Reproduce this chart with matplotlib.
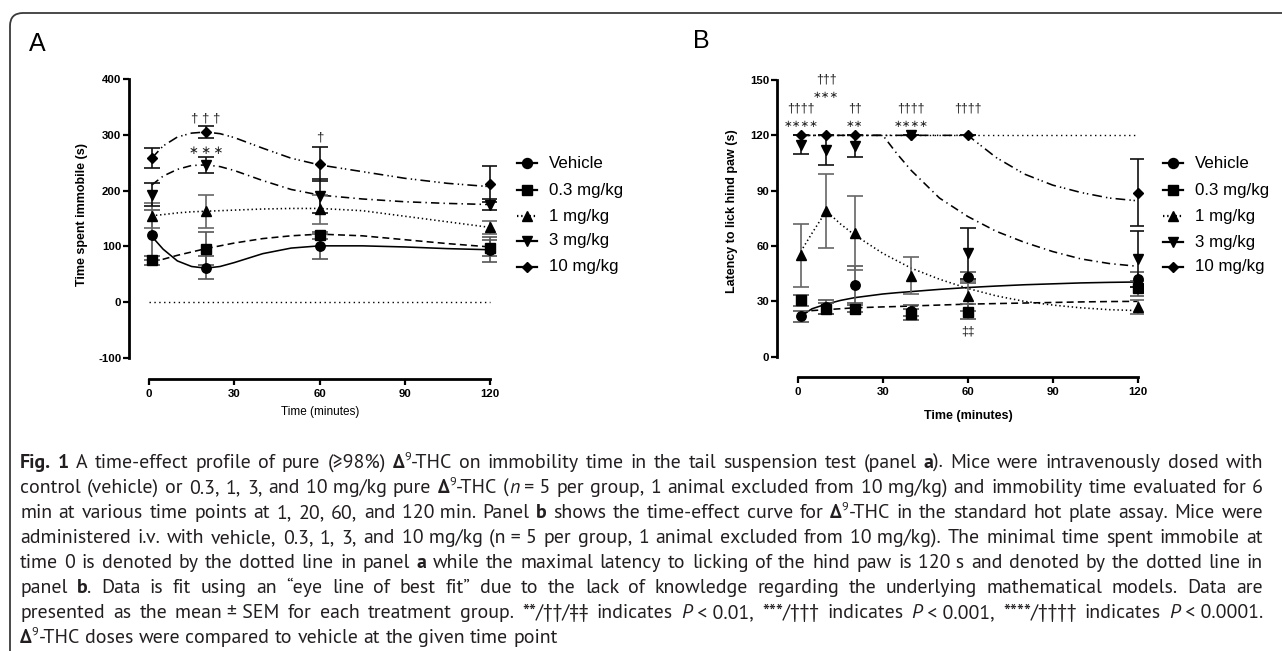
import matplotlib
matplotlib.use("Agg")
import matplotlib.pyplot as plt
from matplotlib.lines import Line2D
from matplotlib.patches import FancyBboxPatch
from matplotlib.transforms import IdentityTransform
from matplotlib import font_manager

plt.rcParams['font.family'] = ['Liberation Sans', 'DejaVu Sans']
plt.rcParams['lines.scale_dashes'] = False
plt.rcParams['axes.unicode_minus'] = False

W, H = 1282, 651

# ---------------- Panel A data (tail suspension) ----------------
A_time = [1, 20, 60, 120]
A_vehicle = [120, 62, 100, 94]
A_vehicle_sem = [45, 21, 22, 22]
A_d03 = [75, 96, 120, 97]
A_d03_sem = [8, 30, 6, 15]
A_d1 = [155, 163, 167, 134]
A_d1_sem = [22, 30, 26, 12]
A_d3 = [193, 246, 190, 175]
A_d3_sem = [20, 15, 30, 10]
A_d10 = [258, 305, 248, 212]
A_d10_sem = [18, 10, 30, 32]

A_fit_t = [1, 5, 10, 15, 20, 25, 30, 40, 50, 60, 75, 90, 105, 120]
A_fit_vehicle = [118, 95, 74, 64, 61, 64, 71, 87, 97, 101, 101, 99, 96, 94]
A_fit_d03 = [73, 77, 84, 90, 96, 101, 106, 114, 119, 122, 119, 112, 105, 99]
A_fit_d1 = [155, 157, 160, 162, 163, 164, 165, 167, 168, 168, 164, 154, 144, 134]
A_fit_d3 = [210, 226, 238, 245, 246, 243, 236, 218, 202, 192, 185, 180, 177, 175]
A_fit_d10 = [258, 280, 296, 303, 305, 302, 295, 276, 258, 246, 234, 222, 213, 207]

A_yticks = [-100, 0, 100, 200, 300, 400]
A_xticks = [0, 30, 60, 90, 120]
A_notes = [(20, 330, "\u2020 \u2020 \u2020"), (20, 271, "\u2217\u2009\u2217\u2009\u2217"), (60, 296, "\u2020")]

# ---------------- Panel B data (hot plate) ----------------
B_time = [1, 10, 20, 40, 60, 120]
B_vehicle = [22, 27, 39, 25, 43, 42]
B_vehicle_sem = [3, 4, 10, 3, 3, 4]
B_d03 = [30.5, 26, 26, 23, 24.5, 37]
B_d03_sem = [3, 3, 2, 3, 4, 4]
B_d1 = [55, 79, 67, 44, 33, 27]
B_d1_sem = [17, 20, 20, 10, 8, 4]
B_d3 = [115, 112, 114, 120, 56, 53]
B_d3_sem = [5, 8, 6, 0, 14, 15]
B_d10 = [120, 120, 120, 120, 120, 89]
B_d10_sem = [0, 0, 0, 0, 0, 18]

B_fit_t = [1, 5, 10, 15, 20, 30, 35, 40, 50, 60, 70, 80, 90, 100, 110, 120]
B_fit_vehicle = [22, 26, 28.5, 30.5, 32, 34, 34.7, 35.3, 36.5, 37.5, 38.3, 39, 39.5, 40, 40.3, 40.5]
B_fit_d03 = [23, 25, 25.5, 26, 26.5, 27, 27.2, 27.5, 28, 28.5, 28.8, 29.1, 29.4, 29.7, 29.9, 30]
B_fit_d1 = [57, 67, 79, 72, 66, 56, 52, 48, 42, 37, 33, 30, 28, 26.5, 25.5, 25]
B_fit_d3 = [120, 120, 120, 120, 120, 120, 110, 101, 86, 76, 68, 62, 57, 53, 50.5, 49]
B_fit_d10 = [120, 120, 120, 120, 120, 120, 120, 120, 120, 120, 108, 99, 93, 89, 86, 84.5]

B_yticks = [0, 30, 60, 90, 120, 150]
B_xticks = [0, 30, 60, 90, 120]
B_notes = [(1, 134.8, "\u2020\u2020\u2020\u2020"), (1, 126.1, "\u2217\u2217\u2217\u2217"),
           (10, 150, "\u2020\u2020\u2020"), (10, 141.8, "\u2217\u2217\u2217"),
           (20, 134.8, "\u2020\u2020"), (20, 126.1, "\u2217\u2217"),
           (40, 134.8, "\u2020\u2020\u2020\u2020"), (40, 126.1, "\u2217\u2217\u2217\u2217"),
           (60, 134.8, "\u2020\u2020\u2020\u2020"), (60, 13.6, "\u2021\u2021")]

labels = ["Vehicle", "0.3 mg/kg", "1 mg/kg", "3 mg/kg", "10 mg/kg"]
markers = ['o', 's', '^', 'v', 'D']
msizes = [6.8, 6.6, 7.2, 7.2, 5.2]
lstyles = ['-', (0, (5, 3)), (0, (1, 2)), (0, (6, 3, 1, 3)), (0, (7, 3, 1, 2, 1, 3))]
ecolors = ['#555555', '#555555', '#666666', '#111111', '#111111']

fig = plt.figure(figsize=(W / 100, H / 100), dpi=100)


def ax_px(l, r, t, b):
    return fig.add_axes([l / W, 1 - b / H, (r - l) / W, (b - t) / H])


def style_axes(ax, xlim, ylim, ybounds, xticks, yticks):
    ax.set_xlim(*xlim)
    ax.set_ylim(*ylim)
    ax.spines['top'].set_visible(False)
    ax.spines['right'].set_visible(False)
    for s in ('left', 'bottom'):
        ax.spines[s].set_linewidth(2.0)
    ax.spines['left'].set_bounds(*ybounds)
    ax.spines['bottom'].set_bounds(0, 120)
    ax.set_xticks(xticks)
    ax.set_yticks(yticks)
    ax.tick_params(direction='out', length=4, width=1.6, labelsize=8.2, pad=1.5)
    ax.tick_params(axis='x', pad=3)
    for lab in ax.get_xticklabels() + ax.get_yticklabels():
        lab.set_fontweight('bold')
    ax.patch.set_visible(False)


def draw_series(ax, t, vals, sems, fit_t, fits):
    for i in range(5):
        ax.plot(fit_t, fits[i], color='black', lw=1.15, ls=lstyles[i], zorder=2)
    for i in range(5):
        ax.errorbar(t, vals[i], yerr=sems[i], fmt='none', ecolor=ecolors[i], elinewidth=1.2,
                    capsize=6, capthick=1.2, zorder=3)
    for i in range(5):
        ax.plot(t, vals[i], ls='none', marker=markers[i], ms=msizes[i], color='black', zorder=4)


def legend_px(xm, xt, rows):
    for i, y in enumerate(rows):
        yy = 1 - y / H
        fig.add_artist(Line2D([(xm - 10) / W, xm / W, (xm + 10) / W], [yy, yy, yy], color='black',
                              lw=1.6, ls=lstyles[i] if i == 2 else '-', marker=markers[i],
                              markevery=[1], ms=msizes[i] + 0.4))
        fig.text(xt / W, yy, labels[i], fontsize=12.2, va='center', ha='left')


NOTE_FAM = ['Liberation Sans', 'DejaVu Sans']
STAR_FAM = ['DejaVu Sans']

# ---------------- Panel A ----------------
axA = ax_px(129, 496, 73.4, 379)
style_axes(axA, (-7, 122), (-137.6, 410), (-100, 400), A_xticks, A_yticks)
axA.plot([0, 120], [0, 0], color='black', lw=1.0, ls=(0, (1, 2.5)), zorder=1)
draw_series(axA, A_time,
            [A_vehicle, A_d03, A_d1, A_d3, A_d10],
            [A_vehicle_sem, A_d03_sem, A_d1_sem, A_d3_sem, A_d10_sem],
            A_fit_t, [A_fit_vehicle, A_fit_d03, A_fit_d1, A_fit_d3, A_fit_d10])
for x, y, s in A_notes:
    star = '\u2217' in s
    axA.text(x, y, s, ha='center', va='center', fontsize=8.5 if star else 9.5,
             family=STAR_FAM if star else NOTE_FAM, color='#222222')
axA.set_ylabel("Time spent immobile (s)", fontsize=9, fontweight='bold')
axA.yaxis.set_label_coords((88 - 129) / 367, (379 - 215) / 305.6)
fig.text(320 / W, 1 - 412 / H, "Time (minutes)", fontsize=8.5, ha='center', va='center')
legend_px(527, 549, [163, 190, 216, 241, 267])

# ---------------- Panel B ----------------
axB = ax_px(776.7, 1143.3, 76.3, 377)
style_axes(axB, (-7.5, 122), (-11, 152), (0, 150), B_xticks, B_yticks)
axB.plot([0, 120], [120, 120], color='black', lw=1.0, ls=(0, (1, 2.5)), zorder=1)
draw_series(axB, B_time,
            [B_vehicle, B_d03, B_d1, B_d3, B_d10],
            [B_vehicle_sem, B_d03_sem, B_d1_sem, B_d3_sem, B_d10_sem],
            B_fit_t, [B_fit_vehicle, B_fit_d03, B_fit_d1, B_fit_d3, B_fit_d10])
for x, y, s in B_notes:
    star = '\u2217' in s
    axB.text(x, y, s, ha='center', va='center', fontsize=7.5 if star else 8.8,
             family=STAR_FAM if star else NOTE_FAM, color='#222222')
axB.set_ylabel("Latency to lick hind paw (s)", fontsize=9, fontweight='bold')
axB.yaxis.set_label_coords((738 - 776.7) / 366.6, (377 - 211) / 300.7)
fig.text(968 / W, 1 - 416 / H, "Time (minutes)", fontsize=9, fontweight='bold', ha='center', va='center')
legend_px(1173, 1195, [163, 190, 216, 242, 267])

# panel letters
fig.text(29 / W, 1 - 51 / H, "A", fontsize=18, ha='left', va='baseline')
fig.text(693 / W, 1 - 48 / H, "B", fontsize=18, ha='left', va='baseline')

# border
border = FancyBboxPatch((10, -30), 1310, H - 13 + 30, boxstyle="round,pad=0,rounding_size=13",
                        transform=IdentityTransform(), fill=False, ec='#3a3a3a', lw=1.3)
fig.add_artist(border)


# ---------------- Caption ----------------
def pick_font():
    for name in ['PT Sans', 'Lato', 'Liberation Sans']:
        try:
            font_manager.findfont(font_manager.FontProperties(family=name), fallback_to_default=False)
            return name
        except Exception:
            pass
    return 'DejaVu Sans'


CAP_FONT = pick_font()
CAP_FS = 12.0

D = "\u0394"
CAPTION = [
    [("Fig. 1", "b"), (" A time-effect profile of pure (\u226598%) ", "n"), (D, "b"), ("9", "sup"),
     ("-THC on immobility time in the tail suspension test (panel ", "n"), ("a", "b"),
     ("). Mice were intravenously dosed with", "n")],
    [("control (vehicle) or 0.3, 1, 3, and 10~mg/kg pure ", "n"), (D, "b"), ("9", "sup"), ("-THC (", "n"),
     ("n", "i"), ("~=~5 per group, 1 animal excluded from 10~mg/kg) and immobility time evaluated for 6", "n")],
    [("min at various time points at 1, 20, 60, and 120~min. Panel ", "n"), ("b", "b"),
     (" shows the time-effect curve for ", "n"), (D, "b"), ("9", "sup"),
     ("-THC in the standard hot plate assay. Mice were", "n")],
    [("administered i.v. with vehicle, 0.3, 1, 3, and 10~mg/kg (n~=~5 per group, 1 animal excluded from 10~mg/kg). The minimal time spent immobile at", "n")],
    [("time 0 is denoted by the dotted line in panel ", "n"), ("a", "b"),
     (" while the maximal latency to licking of the hind paw is 120~s and denoted by the dotted line in", "n")],
    [("panel ", "n"), ("b", "b"),
     (". Data is fit using an \u201ceye line of best fit\u201d due to the lack of knowledge regarding the underlying mathematical models. Data are", "n")],
    [("presented as the mean~\u00b1~SEM for each treatment group. **/\u2020\u2020/\u2021\u2021 indicates ", "n"), ("P", "i"),
     ("~<~0.01, ***/\u2020\u2020\u2020 indicates ", "n"), ("P", "i"), ("~<~0.001, ****/\u2020\u2020\u2020\u2020 indicates ", "n"),
     ("P", "i"), ("~<~0.0001.", "n")],
    [(D, "b"), ("9", "sup"), ("-THC doses were compared to vehicle at the given time point", "n")],
]
CAP_BASE = [468, 493, 518, 543, 568, 593, 618, 643]
CAP_X0, CAP_X1 = 20, 1263

renderer = fig.canvas.get_renderer()


def mk(s, fmt, fs):
    kw = dict(fontsize=fs, family=[CAP_FONT, 'DejaVu Sans'], ha='left', va='baseline', color='#231f20')
    if fmt == 'b':
        kw['fontweight'] = 'bold'
    elif fmt == 'i':
        kw['fontstyle'] = 'italic'
    elif fmt == 'sup':
        kw['fontsize'] = fs * 0.62
    return fig.text(0, 0, s, **kw)


def wpx(t):
    return t.get_window_extent(renderer).width


def split_words(pieces):
    words = [[]]
    for text, fmt in pieces:
        parts = text.split(' ')
        for k, part in enumerate(parts):
            if k > 0:
                words.append([])
            if part:
                words[-1].append((part.replace('~', ' '), fmt))
    return [w for w in words if w]


def space_width(fs):
    t1 = mk("a a", "n", fs); t2 = mk("aa", "n", fs)
    sp = wpx(t1) - wpx(t2)
    t1.remove(); t2.remove()
    return sp


def natural_width(pieces, fs):
    ws = split_words(pieces)
    tot = 0
    for w in ws:
        for s, fmt in w:
            t = mk(s, fmt, fs)
            tot += wpx(t)
            t.remove()
    return tot + space_width(fs) * (len(ws) - 1)


# size the caption so that its widest justified line fits the text block with normal spacing
widest = max(natural_width(p, CAP_FS) for p in CAPTION[:-1])
CAP_FS = CAP_FS * (CAP_X1 - CAP_X0) * 0.985 / widest
SPACE = space_width(CAP_FS)

for li, pieces in enumerate(CAPTION):
    words = split_words(pieces)
    built = []
    total = 0
    for w in words:
        arts = []
        ww = 0
        for s, fmt in w:
            t = mk(s, fmt, CAP_FS)
            wd = wpx(t)
            arts.append((t, wd, fmt))
            ww += wd
        built.append((arts, ww))
        total += ww
    justify = li < len(CAPTION) - 1
    gap = (CAP_X1 - CAP_X0 - total) / (len(built) - 1) if justify else SPACE
    x = CAP_X0
    ybase = H - CAP_BASE[li]
    for arts, ww in built:
        xx = x
        for t, wd, fmt in arts:
            yy = ybase + (CAP_FS * 0.42 * 100 / 72 if fmt == 'sup' else 0)
            t.set_position((xx / W, yy / H))
            xx += wd
        x += ww + gap

fig.savefig("out.png", dpi=100)
